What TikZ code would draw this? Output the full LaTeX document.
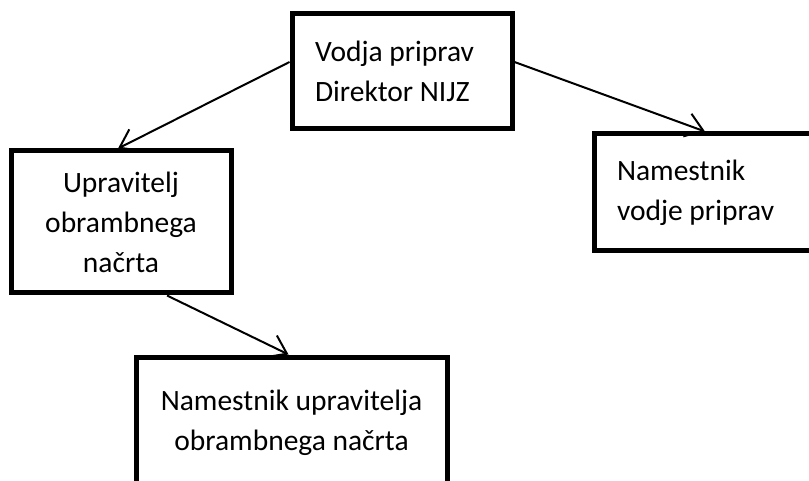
\documentclass[tikz,border=0pt]{standalone}
\usepackage{fontspec}
\setmainfont{Carlito}
\usetikzlibrary{arrows.meta}

\begin{document}
\begin{tikzpicture}[x=1pt, y=-1pt, line width=2pt,
  every node/.style={rectangle, draw, line width=5pt, inner sep=0pt, font=\fontsize{29.5}{40}\selectfont},
  arr/.style={-{Straight Barb[length=17pt,width=24pt]}}]
\path[use as bounding box, clip] (0,0) rectangle (809,481);
% Boxes
\node[minimum width=220pt, minimum height=115pt, text width=174pt, align=flush left] (vodja) at (402,71.5) {Vodja priprav\\Direktor NIJZ};
\node[minimum width=220pt, minimum height=142pt, align=center] (upr) at (121,222) {Upravitelj\\obrambnega\\načrta};
\node[minimum width=236pt, minimum height=117pt, text width=190pt, align=flush left] (namv) at (712,192.5) {Namestnik\\vodje priprav};
\node[minimum width=311pt, minimum height=131pt, align=center] (namu) at (291.5,422.5) {Namestnik upravitelja\\obrambnega načrta};

\draw[arr] ([yshift=9.5pt]vodja.west) -- ([xshift=-3pt]upr.north);
\draw[arr] ([yshift=9.5pt]vodja.east) -- ([xshift=-7pt]namv.north);
\draw[arr] ([xshift=46pt]upr.south) -- ([xshift=-3pt]namu.north);
\end{tikzpicture}
\end{document}
